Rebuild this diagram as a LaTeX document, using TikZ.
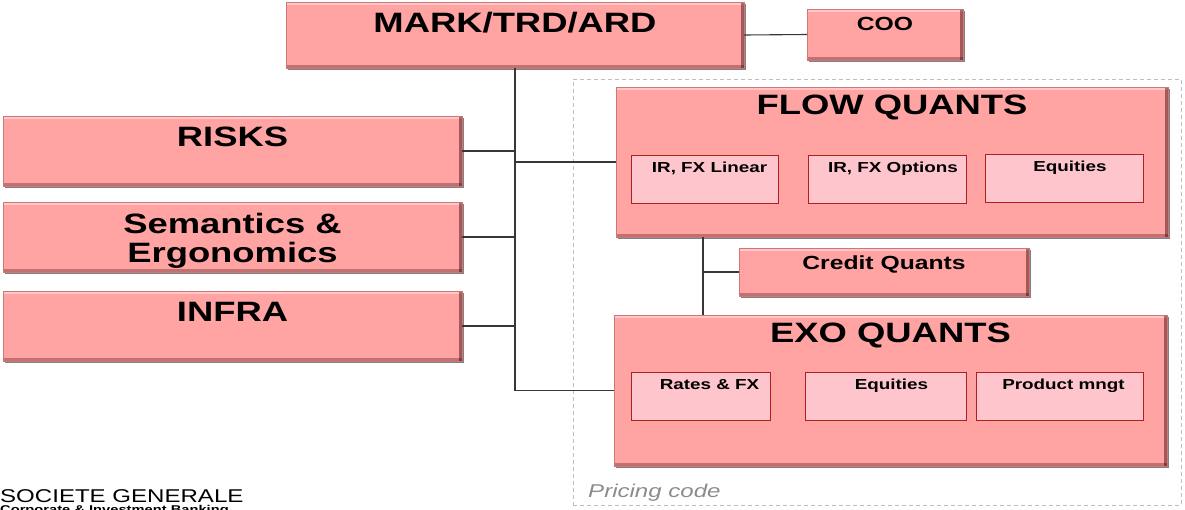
\documentclass[tikz,border=0pt]{standalone}
\usepackage{fontspec}
\setmainfont{Liberation Sans}
\newfontfamily\widesans[FakeStretch=1.3]{Liberation Sans}
\usetikzlibrary{positioning,shadows}
\definecolor{boxpink}{RGB}{255,163,163}
\definecolor{boxedge}{RGB}{205,120,120}
\definecolor{teampink}{RGB}{255,197,205}
\definecolor{teamedge}{RGB}{176,30,30}
\definecolor{framegray}{RGB}{190,190,190}
\definecolor{linegray}{RGB}{55,55,55}
\tikzset{
  orgbox/.style={rectangle, draw=boxedge, fill=boxpink, line width=0.8pt, inner sep=0pt, outer sep=0pt,
    drop shadow={shadow xshift=2pt, shadow yshift=-2pt, fill=black!70, opacity=0.7},
    path picture={
      \fill[white, opacity=0.4] (path picture bounding box.north west) rectangle ([yshift=-3pt]path picture bounding box.north east);
      \fill[black!80!red, opacity=0.45] ([xshift=-3pt]path picture bounding box.north east) rectangle (path picture bounding box.south east);
      \fill[black!80!red, opacity=0.3] ([yshift=3pt]path picture bounding box.south west) rectangle (path picture bounding box.south east);
    }},
  teambox/.style={rectangle, draw=teamedge, fill=teampink, line width=0.8pt, inner sep=0pt, outer sep=0pt},
  bigtitle/.style={font=\widesans\bfseries\fontsize{28}{29}\selectfont, align=center, anchor=north, inner sep=0pt},
  midtitle/.style={font=\widesans\bfseries\fontsize{19}{20}\selectfont, anchor=north, inner sep=0pt},
  teamtitle/.style={font=\widesans\bfseries\fontsize{14.5}{16}\selectfont, anchor=north, inner sep=0pt},
  orgline/.style={draw=linegray, line width=1.1pt},
  pricingframe/.style={rectangle, draw=framegray, dash pattern=on 4pt off 3pt, line width=0.8pt, inner sep=0pt}
}

\begin{document}
\begin{tikzpicture}[x=1pt, y=-1pt]
  \useasboundingbox (0,0) rectangle (1185,509);

  % pricing code frame
  \node[pricingframe, minimum width=608pt, minimum height=426pt] (pricing) at (877,292) {};
  \node[anchor=base west, inner sep=0pt, text=black!45, font=\widesans\itshape\fontsize{18.5}{20}\selectfont] (pricing-t) at (588,497) {Pricing code};

  % top level
  \node[orgbox, minimum width=458pt, minimum height=66pt] (mark) at (515,35) {};
  \node[bigtitle] (mark-t) at ([yshift=-10pt]mark.north) {MARK/TRD/ARD};
  \node[orgbox, minimum width=156pt, minimum height=51pt] (coo) at (885,34.5) {};
  \node[midtitle] (coo-t) at ([yshift=-8pt]coo.north) {COO};

  % left column
  \node[orgbox, minimum width=459pt, minimum height=70pt] (risks) at (232.5,151) {};
  \node[bigtitle] (risks-t) at ([yshift=-11pt]risks.north) {RISKS};
  \node[orgbox, minimum width=459pt, minimum height=70pt] (sem) at (232.5,237) {};
  \node[bigtitle] (sem-t) at ([yshift=-11pt]sem.north) {Semantics \&\\Ergonomics};
  \node[orgbox, minimum width=459pt, minimum height=70pt] (infra) at (232.5,326) {};
  \node[bigtitle] (infra-t) at ([yshift=-11pt]infra.north) {INFRA};

  % flow quants
  \node[orgbox, minimum width=552pt, minimum height=150pt] (flow) at (892,162) {};
  \node[bigtitle] (flow-t) at ([yshift=-8pt]flow.north) {FLOW QUANTS};
  \node[teambox, minimum width=147pt, minimum height=48pt] (irlin) at (704.5,179) {};
  \node[teamtitle] (irlin-t) at ([xshift=5pt, yshift=-7pt]irlin.north) {IR, FX Linear};
  \node[teambox, minimum width=158pt, minimum height=48pt] (iropt) at (887,179) {};
  \node[teamtitle] (iropt-t) at ([xshift=6pt, yshift=-7pt]iropt.north) {IR, FX Options};
  \node[teambox, minimum width=158pt, minimum height=48pt] (feq) at (1064,178) {};
  \node[teamtitle] (feq-t) at ([xshift=6pt, yshift=-7pt]feq.north) {Equities};

  % credit
  \node[orgbox, minimum width=290pt, minimum height=48pt] (credit) at (884,272) {};
  \node[midtitle] (credit-t) at ([yshift=-8pt]credit.north) {Credit Quants};

  % exo quants
  \node[orgbox, minimum width=553pt, minimum height=151pt] (exo) at (890.5,390.5) {};
  \node[bigtitle] (exo-t) at ([yshift=-8pt]exo.north) {EXO QUANTS};
  \node[teambox, minimum width=139pt, minimum height=48pt] (rates) at (700.5,396) {};
  \node[teamtitle] (rates-t) at ([xshift=9pt, yshift=-7pt]rates.north) {Rates \& FX};
  \node[teambox, minimum width=161pt, minimum height=48pt] (eeq) at (885.5,396) {};
  \node[teamtitle] (eeq-t) at ([xshift=6pt, yshift=-7pt]eeq.north) {Equities};
  \node[teambox, minimum width=167pt, minimum height=48pt] (prod) at (1059.5,396) {};
  \node[teamtitle] (prod-t) at ([xshift=4pt, yshift=-7pt]prod.north) {Product mngt};

  % connectors
  \draw[orgline] (mark.east) -- (coo.west);
  \draw[orgline, line width=1.7pt] (mark.south) -- (mark.south |- infra.east);
  \draw[orgline] (mark.south |- infra.east) -- (mark.south |- exo.west) -- (exo.west);
  \draw[orgline] (risks.east) -- (risks.east -| mark.south);
  \draw[orgline] (sem.east) -- (sem.east -| mark.south);
  \draw[orgline] (infra.east) -- (infra.east -| mark.south);
  \draw[orgline] (mark.south |- flow.west) -- (flow.west);
  \coordinate (spine) at ([xshift=87pt]flow.south west);
  \draw[orgline] (spine) -- (spine |- exo.north);
  \draw[orgline] (spine |- credit.west) -- (credit.west);

  % logo
  \node[anchor=base west, inner sep=0pt, font=\widesans\fontsize{18.5}{20}\selectfont] (sg) at (0,502) {SOCIETE GENERALE};
  \node[anchor=north west, inner sep=0pt, font=\widesans\bfseries\fontsize{11.3}{12}\selectfont] (cib) at (0,505.5) {Corporate \& Investment Banking};
\end{tikzpicture}
\end{document}
